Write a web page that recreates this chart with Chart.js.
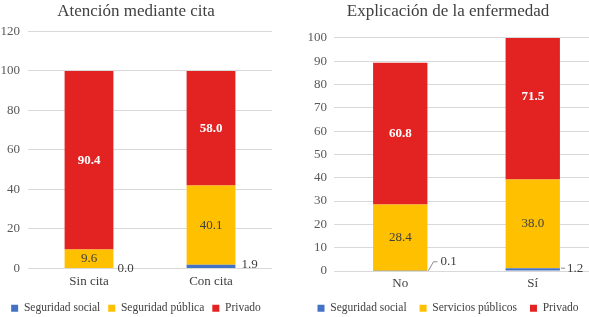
<!DOCTYPE html>
<html>
<head>
<meta charset="utf-8"/>
<title>Atención y explicación</title>
<script src="https://cdn.jsdelivr.net/npm/chart.js"></script>
<style>
  html, body { margin: 0; padding: 0; background: #fff; overflow: hidden; width: 589px; height: 317px; }
  .box { position: absolute; top: 0; height: 317px; }
  #leftBox { left: 0; width: 295px; }
  #rightBox { left: 295px; width: 305px; }
</style>
<script type="text/javascript">
  // Atención mediante cita
  const citaLabels = ['Sin cita', 'Con cita'];
  const citaSocial = [0.0, 1.9];
  const citaPublica = [9.6, 40.1];
  const citaPrivado = [90.4, 58.0];
  const citaTicks = { max: 120, step: 20 };

  // Explicación de la enfermedad
  const explLabels = ['No', 'Sí'];
  const explSocial = [0.1, 1.2];
  const explPublicos = [28.4, 38.0];
  const explPrivado = [60.8, 71.5];
  const explTicks = { max: 100, step: 10 };

  const BLUE = '#4472C4';
  const YELLOW = '#FFC000';
  const RED = '#E32322';
  const FONT = "'Liberation Serif', 'DejaVu Serif', serif";

  // draws values on the bars; small first series goes outside, sometimes with a leader line
  const valueLabels = {
    id: 'valueLabels',
    afterDatasetsDraw(chart, args, opts) {
      const ctx = chart.ctx;
      ctx.save();
      chart.data.datasets.forEach((ds, di) => {
        const meta = chart.getDatasetMeta(di);
        meta.data.forEach((bar, i) => {
          const txt = ds.data[i].toFixed(1);
          if (di === 0) {
            const lead = opts.leaders[i];
            const x0 = bar.x + bar.width / 2;
            const y0 = bar.y;
            let tx = x0 + lead.gap, ty = y0 + lead.dy;
            if (lead.h) {
              ctx.strokeStyle = '#8c8c8c';
              ctx.lineWidth = 1;
              ctx.beginPath();
              ctx.moveTo(x0 + 1, y0);
              ctx.lineTo(x0 + lead.dx, y0 + lead.dy);
              ctx.lineTo(x0 + lead.dx + lead.h, y0 + lead.dy);
              ctx.stroke();
              tx = x0 + lead.dx + lead.h + lead.gap;
            }
            ctx.fillStyle = '#404040';
            ctx.font = '13px ' + FONT;
            ctx.textAlign = 'left';
            ctx.textBaseline = 'middle';
            ctx.fillText(txt, tx, ty);
          } else {
            const c = bar.getCenterPoint();
            ctx.fillStyle = di === 2 ? '#ffffff' : '#404040';
            ctx.font = (di === 2 ? 'bold ' : '') + '13px ' + FONT;
            ctx.textAlign = 'center';
            ctx.textBaseline = 'middle';
            ctx.fillText(txt, c.x, c.y);
          }
        });
      });
      ctx.restore();
    }
  };

  function makeChart(id, cfg) {
    return new Chart(document.getElementById(id), {
      type: 'bar',
      data: {
        labels: cfg.labels,
        datasets: [
          { label: 'Seguridad social', data: cfg.social, backgroundColor: BLUE, categoryPercentage: 1, barPercentage: cfg.barPct },
          { label: cfg.publicaName, data: cfg.publica, backgroundColor: YELLOW, categoryPercentage: 1, barPercentage: cfg.barPct },
          { label: 'Privado', data: cfg.privado, backgroundColor: RED, categoryPercentage: 1, barPercentage: cfg.barPct }
        ]
      },
      plugins: [valueLabels],
      options: {
        responsive: false,
        animation: false,
        layout: { padding: cfg.pad },
        plugins: {
          title: { display: true, text: cfg.title, color: '#404040', font: { family: FONT, size: 17, weight: 'normal' }, padding: { top: 1, bottom: cfg.titleGap } },
          legend: {
            position: 'bottom',
            labels: { color: '#404040', boxWidth: 7, boxHeight: 7, padding: cfg.legendPad, font: { family: FONT, size: 11.5 } }
          },
          tooltip: { enabled: false },
          valueLabels: { leaders: cfg.leaders }
        },
        scales: {
          x: {
            stacked: true,
            afterFit: (s) => { s.height = cfg.xHeight; },
            grid: { display: false, drawTicks: false },
            border: { display: false },
            ticks: { color: '#404040', font: { family: FONT, size: 13 }, padding: 5 }
          },
          y: {
            stacked: true,
            min: 0,
            max: cfg.ticks.max,
            afterFit: (s) => { s.width = cfg.axisWidth; },
            grid: { color: '#d9d9d9', drawTicks: false },
            border: { display: false },
            ticks: { stepSize: cfg.ticks.step, color: '#595959', font: { family: FONT, size: 13 }, padding: cfg.yPad }
          }
        }
      }
    });
  }

  window.addEventListener('load', function() {
    makeChart('citaChart', {
      title: 'Atención mediante cita', labels: citaLabels, social: citaSocial,
      publica: citaPublica, publicaName: 'Seguridad pública', privado: citaPrivado,
      ticks: citaTicks, axisWidth: 28, yPad: 8, barPct: 0.4,
      pad: { left: 0, right: 23, top: 0, bottom: -7 }, titleGap: 10, legendPad: 8, xHeight: 26,
      leaders: [{ gap: 4, dy: 0 }, { gap: 6, dy: 0 }]
    });
    makeChart('explChart', {
      title: 'Explicación de la enfermedad', labels: explLabels, social: explSocial,
      publica: explPublicos, publicaName: 'Servicios públicos', privado: explPrivado,
      ticks: explTicks, axisWidth: 37, yPad: 7, barPct: 0.41,
      pad: { left: 2, right: 1, top: 0, bottom: -7 }, titleGap: 16.5, legendPad: 13, xHeight: 18.5,
      leaders: [{ dx: 6, dy: -9, h: 4, gap: 3 }, { dx: 2, dy: 0, h: 3, gap: 2 }]
    });
  });
</script>
</head>
<body>
  <div class="box" id="leftBox"><canvas id="citaChart" width="295" height="317"></canvas></div>
  <div class="box" id="rightBox"><canvas id="explChart" width="305" height="317"></canvas></div>
</body>
</html>
